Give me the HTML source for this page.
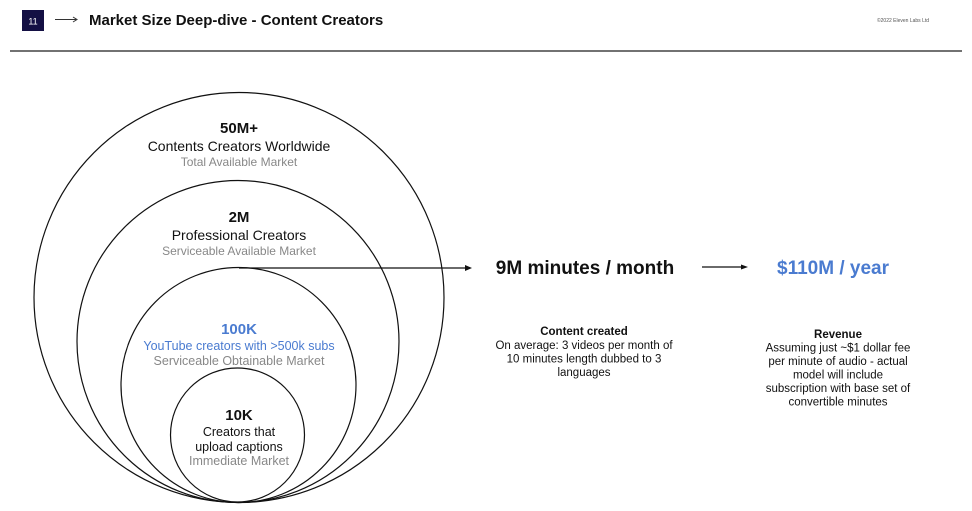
<!DOCTYPE html>
<html><head><meta charset="utf-8"><style>
html,body{margin:0;padding:0;background:#fff;width:972px;height:511px;overflow:hidden}
</style></head><body>
<svg width="972" height="511" xmlns="http://www.w3.org/2000/svg" font-family="Liberation Sans, sans-serif">
<rect x="22" y="10" width="22" height="21" fill="#141044"/>
<text x="33" y="24.5" font-size="9" fill="#fff" text-anchor="middle">11</text>
<line x1="55" y1="19.5" x2="76" y2="19.5" stroke="#333" stroke-width="1"/>
<path d="M73,17 L77,19.5 L73,22" fill="none" stroke="#333" stroke-width="1"/>
<text x="89" y="25" font-size="15" font-weight="bold" fill="#111">Market Size Deep-dive - Content Creators</text>
<text x="903" y="22" font-size="5" fill="#555" text-anchor="middle">©2022 Eleven Labs Ltd</text>
<line x1="10" y1="51" x2="962" y2="51" stroke="#444" stroke-width="1.6"/>
<g fill="none" stroke="#111" stroke-width="1.2">
<circle cx="239" cy="297.5" r="205"/>
<circle cx="238" cy="341.5" r="161"/>
<circle cx="238.5" cy="385" r="117.5"/>
<circle cx="237.5" cy="435" r="67"/>
<line x1="239" y1="268" x2="470" y2="268"/>
<line x1="702" y1="267" x2="745" y2="267"/>
</g>
<path d="M465,265 L472,268 L465,271Z" fill="#111"/>
<path d="M741,264.5 L748,267 L741,269.5Z" fill="#111"/>
<g text-anchor="middle">
<text x="239" y="133" font-size="15" font-weight="bold" fill="#111">50M+</text>
<text x="239" y="151" font-size="14" fill="#111">Contents Creators Worldwide</text>
<text x="239" y="166" font-size="12" fill="#888">Total Available Market</text>
<text x="239" y="222" font-size="15" font-weight="bold" fill="#111">2M</text>
<text x="239" y="240" font-size="14" fill="#111">Professional Creators</text>
<text x="239" y="255" font-size="12" fill="#888">Serviceable Available Market</text>
<text x="239" y="334" font-size="15" font-weight="bold" fill="#4a7bd0">100K</text>
<text x="239" y="350" font-size="12.5" fill="#4a7bd0">YouTube creators with &gt;500k subs</text>
<text x="239" y="365" font-size="12.5" fill="#888">Serviceable Obtainable Market</text>
<text x="239" y="420" font-size="15" font-weight="bold" fill="#111">10K</text>
<text x="239" y="436" font-size="12.5" fill="#111">Creators that</text>
<text x="239" y="451" font-size="12.5" fill="#111">upload captions</text>
<text x="239" y="465" font-size="12.5" fill="#888">Immediate Market</text>
<text x="585" y="274" font-size="19" font-weight="bold" fill="#111">9M minutes / month</text>
<text x="833" y="274" font-size="19" font-weight="bold" fill="#4a7bd0">$110M / year</text>
<g font-size="11.5" fill="#111">
<text x="584" y="335" font-weight="bold">Content created</text>
<text x="584" y="349">On average: 3 videos per month of</text>
<text x="584" y="362.5">10 minutes length dubbed to 3</text>
<text x="584" y="376">languages</text>
<text x="838" y="338" font-weight="bold">Revenue</text>
<text x="838" y="351.5">Assuming just ~$1 dollar fee</text>
<text x="838" y="365">per minute of audio - actual</text>
<text x="838" y="378.5">model will include</text>
<text x="838" y="392">subscription with base set of</text>
<text x="838" y="405.5">convertible minutes</text>
</g>
</g>
</svg>
</body></html>
